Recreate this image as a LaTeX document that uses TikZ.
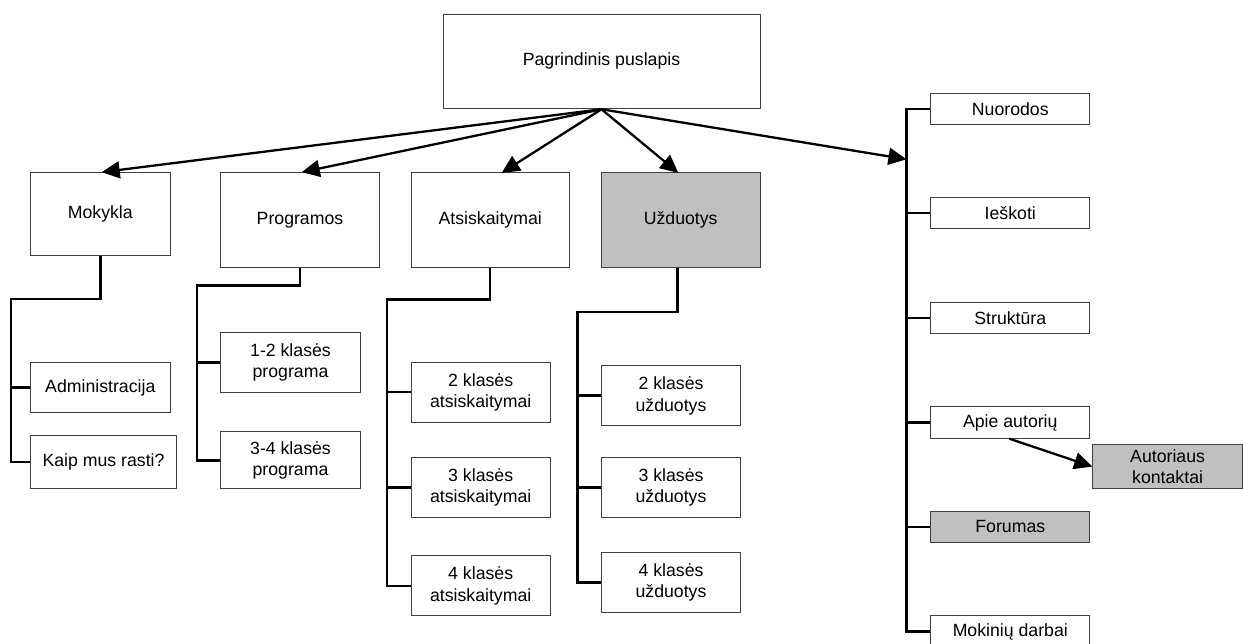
\documentclass[tikz,border=0pt]{standalone}
\usepackage{fontspec}
\setmainfont{Liberation Sans}
\usetikzlibrary{arrows.meta,calc}
\definecolor{boxgray}{RGB}{192,192,192}
\tikzset{
  page/.style={draw=black!75, line width=1pt, fill=white, inner sep=0pt,
    align=center, font=\fontsize{17.7}{21.5}\selectfont},
  hl/.style={page, fill=boxgray},
  tree/.style={line width=2.4pt, line join=miter},
  link/.style={line width=2.3pt, -{Triangle[length=18pt,width=17pt]}},
}
% page box: [style]{name}{centre x}{centre y}{width}{height}, then the label
\newcommand{\pg}[6][page]{%
  \node[#1, minimum width=#5pt, minimum height=#6pt] (#2) at (#3,#4)}
\begin{document}
\begin{tikzpicture}[x=1pt,y=-1pt]
\useasboundingbox (0,0) rectangle (1243,644);

% main page
\pg{top}{601.5}{61.4}{317}{94.7} {Pagrindinis puslapis};

% first level sections
\pg{mok}{100.3}{214.3}{140}{83.3} {Mokykla};
\pg{prog}{300}{220}{158.6}{94.6} {Programos};
\pg{atsi}{490.2}{220}{158.3}{94.6} {Atsiskaitymai};
\pg[hl]{uzd}{680.7}{220}{158.7}{94.6} {Užduotys};

% Mokykla subpages
\pg{adm}{100.3}{387.5}{140}{50.4} {Administracija};
\pg{kaip}{103.5}{462}{146.4}{53.4} {Kaip mus rasti?};

% Programos subpages
\pg{p12}{290.5}{362.5}{139.6}{59.6} {1-2 klasės\\programa};
\pg{p34}{290.5}{460.3}{139.6}{56.7} {3-4 klasės\\programa};

% Atsiskaitymai subpages
\pg{a2}{480.7}{392.3}{139.3}{60} {2 klasės\\atsiskaitymai};
\pg{a3}{480.7}{487.3}{139.3}{60} {3 klasės\\atsiskaitymai};
\pg{a4}{480.7}{585.7}{139.3}{60} {4 klasės\\atsiskaitymai};

% Užduotys subpages
\pg{u2}{671}{395.7}{139.4}{60} {2 klasės\\užduotys};
\pg{u3}{671}{487.3}{139.4}{60} {3 klasės\\užduotys};
\pg{u4}{671}{582.3}{139.4}{60} {4 klasės\\užduotys};

% side menu
\pg{nuo}{1010.3}{109}{158.7}{31.4} {Nuorodos};
\pg{ies}{1010.3}{213.2}{158.7}{31.4} {Ieškoti};
\pg{str}{1010.3}{318.2}{158.7}{31.4} {Struktūra};
\pg{apie}{1010.3}{422.5}{158.7}{31.4} {Apie autorių};
\pg[hl]{forum}{1010.3}{526.8}{158.7}{31.4} {Forumas};
\pg{mokd}{1010.3}{631.5}{158.7}{31.4} {Mokinių darbai};
\pg[hl]{auto}{1167.6}{466.6}{149.8}{44.7} {Autoriaus\\kontaktai};

% tree connectors
\draw[tree] (mok.south) -- ++(0,42.3) -| ([xshift=-18.6pt]kaip.west) -- (kaip.west);
\draw[tree] (adm.west) -- ++(-18.6,0);

\draw[tree] (prog.south) -- ++(0,17.7) -| ([xshift=-23.4pt]p34.west) -- (p34.west);
\draw[tree] (p12.west) -- ++(-23.4,0);

\draw[tree] (atsi.south) -- ++(0,31.7) -| ([xshift=-23.7pt]a4.west) -- (a4.west);
\draw[tree] (a2.west) -- ++(-23.7,0);
\draw[tree] (a3.west) -- ++(-23.7,0);

\draw[tree] ([xshift=-3.4pt]uzd.south) -- ++(0,44.4) -| ([xshift=-23.3pt]u4.west) -- (u4.west);
\draw[tree] (u2.west) -- ++(-23.3,0);
\draw[tree] (u3.west) -- ++(-23.3,0);

\draw[tree] (nuo.west) -- ++(-24,0) |- (mokd.west);
\foreach \n in {ies,str,apie,forum} \draw[tree] (\n.west) -- ++(-24,0);
\coordinate (rhub) at ($(nuo.west)+(-24,50.3)$);

% links from the main page
\draw[link] (top.south) -- ([xshift=1.4pt]mok.north);
\draw[link] (top.south) -- ([xshift=1.7pt]prog.north);
\draw[link] (top.south) -- ([xshift=11.5pt,yshift=-0.7pt]atsi.north);
\draw[link] (top.south) -- ([xshift=-2.4pt,yshift=-0.7pt]uzd.north);
\draw[link] (top.south) -- (rhub);
\draw[link] ([xshift=-1pt]apie.south) -- (auto.west);
\end{tikzpicture}
\end{document}
